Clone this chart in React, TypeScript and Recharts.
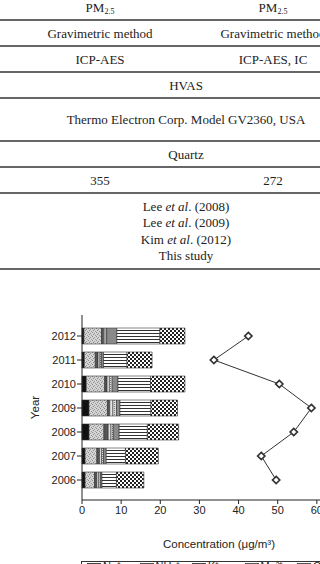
import React from "react";
import { ComposedChart, Bar, Line, XAxis, YAxis } from "recharts";

// chart values
const years = ["2006", "2007", "2008", "2009", "2010", "2011", "2012"];
const na = [0.8, 0.8, 1.8, 1.8, 1.1, 0.6, 0.5];
const nh4 = [2.4, 3.0, 3.8, 4.7, 4.7, 2.8, 4.5];
const k = [0.6, 0.7, 1.1, 0.6, 0.6, 0.7, 0.5];
const mg = [0.5, 0.5, 0.7, 0.8, 0.6, 0.5, 0.4];
const ca = [0.4, 0.5, 0.6, 0.9, 0.7, 0.4, 0.4];
const cl = [0.4, 0.7, 1.5, 0.9, 1.5, 0.5, 2.6];
const no3 = [3.7, 4.9, 7.2, 7.9, 8.3, 6.0, 11.0];
const so4 = [7.0, 8.4, 8.0, 6.8, 8.8, 6.4, 6.4];
const pm25 = [49.6, 45.8, 54.1, 58.6, 50.4, 33.7, 42.5];
const xTicks = [0, 10, 20, 30, 40, 50, 60, 70];

const ionKeys = ["na", "nh4", "k", "mg", "ca", "cl", "no3", "so4"];
const ionLabels = ["Na⁺", "NH₄⁺", "K⁺", "Mg²⁺", "Ca²⁺", "Cl⁻", "NO₃⁻", "SO₄²⁻"];

const data = years.map((year, i) => ({
  year,
  na: na[i],
  nh4: nh4[i],
  k: k[i],
  mg: mg[i],
  ca: ca[i],
  cl: cl[i],
  no3: no3[i],
  so4: so4[i],
  pm: pm25[i],
}));

const ionFill: Record<string, string> = {
  na: "#111",
  nh4: "url(#pat-nh4)",
  k: "#555",
  mg: "#e4e4e4",
  ca: "url(#pat-ca)",
  cl: "#8a8a8a",
  no3: "url(#pat-no3)",
  so4: "url(#pat-so4)",
};

const SANS = "'Liberation Sans', Arial, Helvetica, sans-serif";
const SERIF = "'Liberation Serif', 'Times New Roman', serif";
const INK = "#222";

const Diamond = (props: any) => {
  const { cx, cy } = props;
  if (cx == null || cy == null) return null;
  const r = 3.6;
  return (
    <path
      d={`M${cx},${cy - r}L${cx + r},${cy}L${cx},${cy + r}L${cx - r},${cy}Z`}
      fill="#fff"
      stroke="#333"
      strokeWidth={1.7}
    />
  );
};

const YearLabel = (props: any) => {
  const vb = props.viewBox || { x: 0, y: 15, height: 185 };
  const x = vb.x + 35;
  const y = vb.y + vb.height / 2;
  return (
    <text
      x={x}
      y={y}
      transform={`rotate(-90, ${x}, ${y})`}
      textAnchor="middle"
      dominantBaseline="central"
      fontSize={11.5}
      fontFamily={SANS}
      fill={INK}
    >
      Year
    </text>
  );
};

// table helpers
const Cell = ({ cx, cy, children }: { cx: number; cy: number; children: React.ReactNode }) => (
  <div
    style={{
      position: "absolute",
      left: cx - 160,
      width: 320,
      top: cy - 8,
      lineHeight: "16px",
      textAlign: "center",
      whiteSpace: "nowrap",
    }}
  >
    {children}
  </div>
);

const Rule = ({ y, w = 1.5 }: { y: number; w?: number }) => (
  <div
    style={{
      position: "absolute",
      left: 0,
      width: 320,
      top: y - w / 2,
      height: w,
      background: "#666",
    }}
  />
);

const PM = () => (
  <span>
    PM<sub style={{ fontSize: 8, verticalAlign: "-2px" }}>2.5</sub>
  </span>
);

const App = () => {
  return (
    <div
      style={{
        position: "absolute",
        left: 0,
        top: 0,
        width: 320,
        height: 564,
        overflow: "hidden",
        background: "#fff",
      }}
    >
      {/* table above the chart */}
      <div style={{ fontFamily: SERIF, fontSize: 13, color: INK }}>
        <Cell cx={100} cy={8}><PM /></Cell>
        <Cell cx={273} cy={8}><PM /></Cell>
        <Rule y={20} />
        <Cell cx={100} cy={34}>Gravimetric method</Cell>
        <Cell cx={273} cy={34}>Gravimetric method</Cell>
        <Rule y={46} />
        <Cell cx={100} cy={60}>ICP-AES</Cell>
        <Cell cx={273} cy={60}>ICP-AES, IC</Cell>
        <Rule y={72} />
        <Cell cx={186} cy={86}>HVAS</Cell>
        <Rule y={98} />
        <Cell cx={186} cy={120}>Thermo Electron Corp. Model GV2360, USA</Cell>
        <Rule y={141} />
        <Cell cx={186} cy={155}>Quartz</Cell>
        <Rule y={167} />
        <Cell cx={100} cy={181}>355</Cell>
        <Cell cx={273} cy={181}>272</Cell>
        <Rule y={193} />
        <Cell cx={186} cy={207}>Lee <i>et al</i>. (2008)</Cell>
        <Cell cx={186} cy={223}>Lee <i>et al</i>. (2009)</Cell>
        <Cell cx={186} cy={240}>Kim <i>et al</i>. (2012)</Cell>
        <Cell cx={186} cy={256}>This study</Cell>
        <Rule y={269} w={2} />
      </div>

      {/* chart */}
      <div style={{ position: "absolute", left: 0, top: 300 }}>
        <ComposedChart
          width={366}
          height={250}
          data={data}
          layout="vertical"
          margin={{ top: 15, right: 10, left: 0, bottom: 0 }}
        >
          <defs>
            <pattern id="pat-nh4" width="4" height="4" patternUnits="userSpaceOnUse">
              <rect width="4" height="4" fill="#d4d4d4" />
              <rect x="0" y="0" width="1" height="1" fill="#8a8a8a" />
              <rect x="2" y="1" width="1" height="1" fill="#9a9a9a" />
              <rect x="1" y="2" width="1" height="1" fill="#8a8a8a" />
              <rect x="3" y="3" width="1" height="1" fill="#9a9a9a" />
            </pattern>
            <pattern id="pat-ca" width="2" height="2" patternUnits="userSpaceOnUse">
              <rect width="2" height="2" fill="#e8e8e8" />
              <rect x="0" y="0" width="1" height="1" fill="#777" />
            </pattern>
            <pattern id="pat-no3" width="4" height="3" patternUnits="userSpaceOnUse">
              <rect width="4" height="3" fill="#fff" />
              <rect x="0" y="0" width="4" height="1" fill="#333" />
            </pattern>
            <pattern id="pat-so4" width="4" height="4" patternUnits="userSpaceOnUse">
              <rect width="4" height="4" fill="#fff" />
              <rect x="0" y="0" width="2" height="2" fill="#222" />
              <rect x="2" y="2" width="2" height="2" fill="#222" />
            </pattern>
          </defs>

          {/* top frame line */}
          <XAxis
            xAxisId="top"
            orientation="top"
            type="number"
            domain={[0, 70]}
            height={0}
            tick={false}
            tickLine={false}
            axisLine={{ stroke: INK, strokeWidth: 1 }}
          />

          <XAxis
            type="number"
            domain={[0, 70]}
            ticks={xTicks}
            height={50}
            tickSize={4}
            tickMargin={2}
            axisLine={{ stroke: INK, strokeWidth: 1 }}
            tickLine={{ stroke: INK }}
            tick={{ fontSize: 11, fontFamily: SANS, fill: INK }}
            label={{
              value: "Concentration (μg/m³)",
              position: "insideBottom",
              offset: 2,
              fontSize: 11.5,
              fontFamily: SANS,
              fill: INK,
            }}
          />

          <YAxis
            type="category"
            dataKey="year"
            reversed
            width={82}
            padding={{ top: 9, bottom: 8 }}
            tickSize={5}
            tickMargin={1}
            axisLine={{ stroke: INK, strokeWidth: 1 }}
            tickLine={{ stroke: INK }}
            tick={{ fontSize: 11, fontFamily: SANS, fill: INK }}
            label={<YearLabel />}
          />

          {ionKeys.map((key) => (
            <Bar
              key={key}
              dataKey={key}
              stackId="ions"
              barSize={16}
              fill={ionFill[key]}
              stroke="#333"
              strokeWidth={0.6}
              isAnimationActive={false}
            />
          ))}

          <Line
            dataKey="pm"
            stroke="#333"
            strokeWidth={1}
            dot={<Diamond />}
            activeDot={false}
            isAnimationActive={false}
          />
        </ComposedChart>
      </div>

      {/* legend, cut by the bottom edge */}
      <div
        style={{
          position: "absolute",
          left: 81,
          top: 561,
          width: 420,
          height: 30,
          border: "1px solid #333",
          display: "flex",
          fontFamily: SANS,
          fontSize: 11,
          color: INK,
        }}
      >
        {ionKeys.map((key, i) => (
          <div
            key={key}
            style={{ width: 55, paddingLeft: 5, display: "flex", alignItems: "flex-start", boxSizing: "border-box" }}
          >
            <svg width={14} height={9} style={{ marginTop: 1, flex: "none" }}>
              <rect x={0.5} y={0.5} width={13} height={8} fill={ionFill[key]} stroke="#333" strokeWidth={0.8} />
            </svg>
            <span style={{ marginLeft: 2, marginTop: -2, lineHeight: "12px", whiteSpace: "nowrap" }}>
              {ionLabels[i]}
            </span>
          </div>
        ))}
      </div>
    </div>
  );
};

export default App;
